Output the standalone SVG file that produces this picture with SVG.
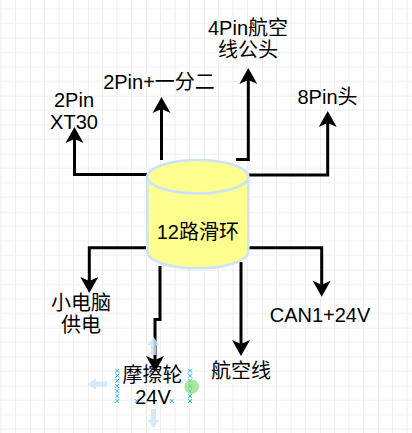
<svg xmlns="http://www.w3.org/2000/svg" width="412" height="433" viewBox="0 0 412 433">
  <defs>
    <pattern id="grid" patternUnits="userSpaceOnUse" x="30" y="37.7" width="58" height="58">
      <path d="M14.5,0 V58 M29,0 V58 M43.5,0 V58 M0,14.5 H58 M0,29 H58 M0,43.5 H58" stroke="#efefef" stroke-width="1" fill="none"/>
      <path d="M0,0 V58 M0,0 H58" stroke="#dedede" stroke-width="1" fill="none"/>
    </pattern>
    <marker id="arr" markerUnits="userSpaceOnUse" markerWidth="20" markerHeight="20" viewBox="0 -10 18 20" refX="4" refY="0" orient="auto">
      <path d="M0,-9 L16,0 L0,9 L4,0 Z" fill="#000"/>
    </marker>
    <g id="xm"><path d="M-2,-2 L2,2 M-2,2 L2,-2" stroke="#29a8f0" stroke-width="1" fill="none"/></g>
  </defs>
  <style>
    .lbl { font-family: "Liberation Sans", "Noto Sans CJK SC", sans-serif; font-size: 20px; fill: #000; text-anchor: middle; }
    .edge { stroke: #000; stroke-width: 3; fill: none; marker-end: url(#arr); }
    .hov { fill: #cfe5fa; opacity: 0.85; }
  </style>
  <rect width="412" height="433" fill="#ffffff"/>
  <rect width="412" height="433" fill="url(#grid)"/>

  <g id="connectors">
    <path class="edge" d="M147,174.5 H74.5 V139"/>
    <path class="edge" d="M161.5,160 V109"/>
    <path class="edge" d="M236,159.5 H248.3 V80"/>
    <path class="edge" d="M248,175 H327.7 V123"/>
    <path class="edge" d="M147,247.7 H89.3 V281"/>
    <path class="edge" d="M160,266 V319.5 H155 V360"/>
    <path class="edge" d="M241,262 V344"/>
    <path class="edge" d="M249,247.7 H321.7 V284.7"/>
  </g>

  <g id="slipring">
    <path d="M147.3,176.7 A50.5,16.7 0 0 1 248.3,176.7 V251.6 A50.5,16.7 0 0 1 147.3,251.6 Z" fill="#ffff90" stroke="#cde3f8" stroke-width="2.6"/>
    <path d="M147.3,176.7 A50.5,16.7 0 0 0 248.3,176.7" fill="none" stroke="#cde3f8" stroke-width="2.6"/>
    <text class="lbl" x="197.8" y="239.3">12路滑环</text>
  </g>

  <g id="xt30"><text class="lbl" x="74" y="106.7">2Pin</text><text class="lbl" x="74" y="129">XT30</text></g>
  <g id="pin2split"><text class="lbl" x="159" y="89.3">2Pin+一分二</text></g>
  <g id="pin4aviation"><text class="lbl" x="248" y="35">4Pin航空</text><text class="lbl" x="248" y="57.3">线公头</text></g>
  <g id="pin8"><text class="lbl" x="327.5" y="104">8Pin头</text></g>
  <g id="pcpower"><text class="lbl" x="81" y="309.5">小电脑</text><text class="lbl" x="81" y="332">供电</text></g>
  <g id="can"><text class="lbl" x="320" y="321.7">CAN1+24V</text></g>
  <g id="aviationline"><text class="lbl" x="241" y="378">航空线</text></g>

  <g id="friction">
    <path class="hov" d="M153.5,337 L159.5,345 L156,345 L156,355 L151,355 L151,345 L147.5,345 Z"/>
    <path class="hov" d="M153.5,428 L159.5,420 L156,420 L156,409 L151,409 L151,420 L147.5,420 Z"/>
    <path class="hov" d="M88,384 L96,378 L96,381.5 L107,381.5 L107,386.5 L96,386.5 L96,390 Z"/>
    <text class="lbl" x="152.5" y="381.5">摩擦轮</text>
    <text class="lbl" x="153" y="403.5">24V</text>
    <use href="#xm" x="117.3" y="370.7"/><use href="#xm" x="117.3" y="375.7"/><use href="#xm" x="117.3" y="380.7"/><use href="#xm" x="117.3" y="386"/><use href="#xm" x="117.3" y="391"/><use href="#xm" x="117.3" y="396"/><use href="#xm" x="117.3" y="401"/>
    <use href="#xm" x="190" y="370.7"/><use href="#xm" x="190" y="375.7"/><use href="#xm" x="190" y="380.7"/><use href="#xm" x="190" y="386"/><use href="#xm" x="190" y="391"/><use href="#xm" x="190" y="396"/><use href="#xm" x="190" y="401"/>
    <use href="#xm" x="136.7" y="401"/><use href="#xm" x="171.7" y="401"/>
    <circle cx="191.7" cy="386.7" r="7.3" fill="#8ee27a" opacity="0.75"/>
  </g>
</svg>
